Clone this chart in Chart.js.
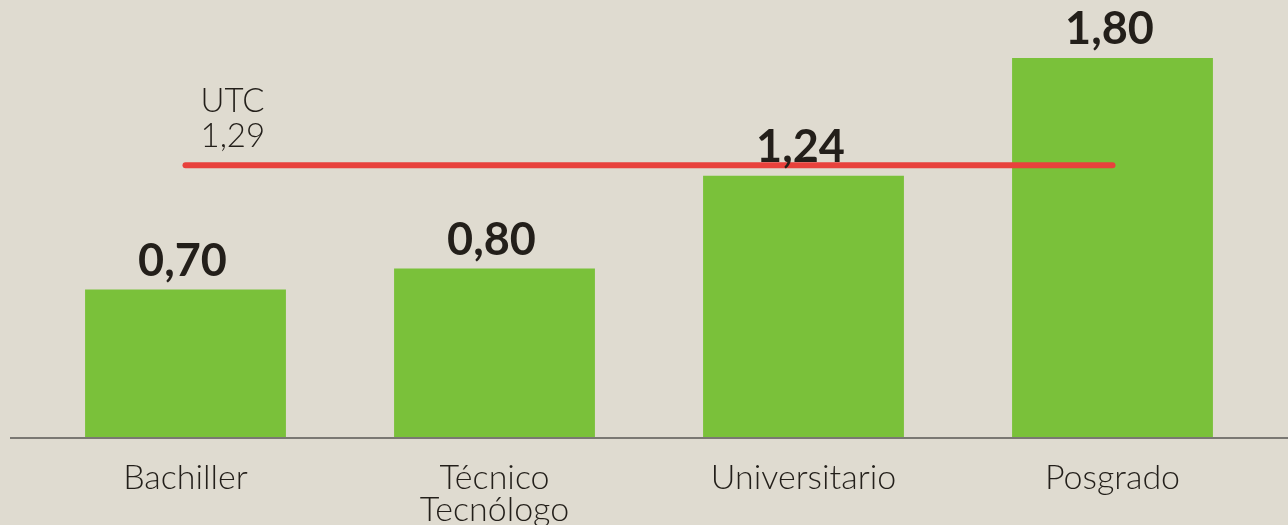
<!DOCTYPE html>
<html>
<head>
<meta charset="utf-8">
<script src="https://cdn.jsdelivr.net/npm/chart.js@4/dist/chart.umd.min.js"></script>
<style>
  html, body { margin: 0; padding: 0; background: #dfdbd0; }
  #wrap { width: 1288px; height: 525px; }
</style>
</head>
<body>
<div id="wrap"><canvas id="chart" width="1288" height="525"></canvas></div>
<script>
// data
const categories = [['Bachiller'], ['Técnico', 'Tecnólogo'], ['Universitario'], ['Posgrado']];
const values = [0.70, 0.80, 1.24, 1.80];
const utcLabel = 'UTC';
const utcValue = 1.29;

const fmt = v => v.toFixed(2).replace('.', ',');

// baseline across the full width + value labels + UTC note
const annotations = {
    id: 'annotations',
    afterDatasetsDraw(chart) {
        const ctx = chart.ctx;
        const y = chart.scales.y;
        const x = chart.scales.x;
        const y0 = y.getPixelForValue(0);

        ctx.save();
        ctx.strokeStyle = '#7a7873';
        ctx.lineWidth = 2;
        ctx.beginPath();
        ctx.moveTo(10, y0 + 1);
        ctx.lineTo(chart.width, y0 + 1);
        ctx.stroke();

        // values above bars
        ctx.fillStyle = '#231f1a';
        ctx.font = 'bold 45px Lato';
        ctx.textAlign = 'center';
        ctx.textBaseline = 'alphabetic';
        const bars = chart.getDatasetMeta(0).data;
        bars.forEach((bar, i) => {
            ctx.fillText(fmt(values[i]), bar.x - 3, bar.y - 14);
        });

        // UTC reference note
        const ly = y.getPixelForValue(utcValue);
        const lx = x.getPixelForValue(0) + 15;
        ctx.font = '300 33px Lato';
        ctx.textAlign = 'left';
        ctx.fillText(utcLabel, lx, ly - 53);
        ctx.fillText(fmt(utcValue), lx, ly - 18);
        ctx.restore();
    }
};

const ctx = document.getElementById('chart').getContext('2d');
new Chart(ctx, {
    type: 'bar',
    data: {
        labels: categories,
        datasets: [
            {
                type: 'bar',
                label: 'Valor',
                data: values,
                backgroundColor: '#7ac13a',
                borderWidth: 0,
                barPercentage: 0.65,
                categoryPercentage: 1,
                order: 2
            },
            {
                type: 'line',
                label: utcLabel,
                data: categories.map(() => utcValue),
                borderColor: '#e8413c',
                borderWidth: 6,
                borderCapStyle: 'round',
                pointRadius: 0,
                fill: false,
                order: 1
            }
        ]
    },
    options: {
        responsive: false,
        animation: false,
        layout: { padding: { left: 31, right: 21, top: 0, bottom: 0 } },
        plugins: {
            legend: { display: false },
            tooltip: { enabled: false }
        },
        scales: {
            x: {
                grid: { display: false, drawTicks: false },
                border: { display: false },
                ticks: {
                    color: '#231f1a',
                    font: { family: 'Lato', size: 34, weight: '300', lineHeight: 0.95 },
                    padding: 25,
                    maxRotation: 0,
                    autoSkip: false
                },
                afterFit(scale) { scale.height = 88; }
            },
            y: {
                display: false,
                min: 0,
                max: 2.075
            }
        }
    },
    plugins: [annotations]
});
</script>
</body>
</html>
